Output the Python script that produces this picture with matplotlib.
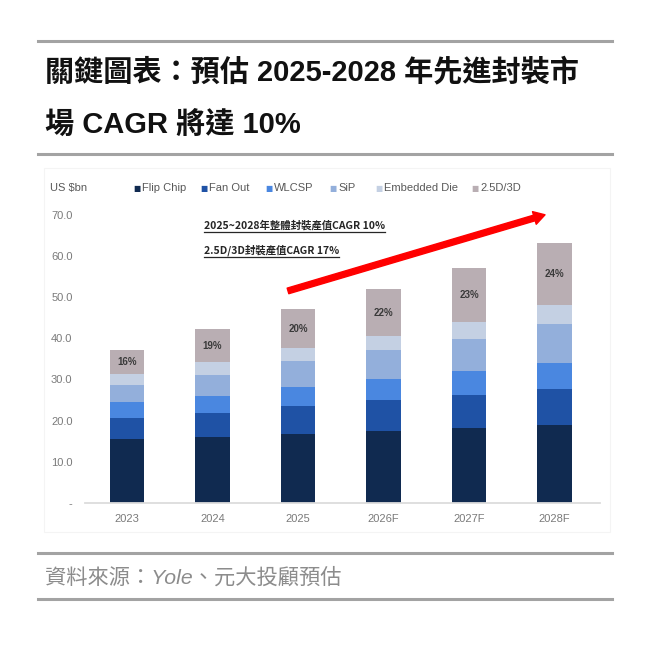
import matplotlib
matplotlib.use('Agg')
import matplotlib.pyplot as plt
import numpy as np
from matplotlib.lines import Line2D
from matplotlib.patches import Rectangle

# ---------------- data ----------------
years = ['2023', '2024', '2025', '2026F', '2027F', '2028F']
flip_chip = [15.5, 16.0, 16.7, 17.5, 18.2, 18.9]
fan_out = [5.2, 5.8, 6.9, 7.4, 8.0, 8.8]
wlcsp = [3.9, 4.2, 4.6, 5.3, 5.8, 6.4]
sip = [4.0, 5.0, 6.2, 6.9, 7.8, 9.3]
embedded_die = [2.6, 3.2, 3.3, 3.4, 4.1, 4.6]
d25_3d = [5.9, 8.0, 9.3, 11.5, 13.2, 15.2]
share_25d = ['16%', '19%', '20%', '22%', '23%', '24%']
series_names = ['Flip Chip', 'Fan Out', 'WLCSP', 'SiP', 'Embedded Die', '2.5D/3D']
yticks = [0, 10, 20, 30, 40, 50, 60, 70]
ytick_labels = ['-', '10.0', '20.0', '30.0', '40.0', '50.0', '60.0', '70.0']

title_line1 = '關鍵圖表：預估 2025-2028 年先進封裝市'
title_line2 = '場 CAGR 將達 10%'
note_line1 = '2025~2028年整體封裝產值CAGR 10%'
note_line2 = '2.5D/3D封裝產值CAGR 17%'
source_text = '資料來源：Yole、元大投顧預估'
unit_text = 'US $bn'

# ---------------- style ----------------
colors = ['#102a50', '#1f52a5', '#4a87e0', '#93afdb', '#c4d0e3', '#b9aeb3']
CJK = ['Noto Sans CJK TC', 'DejaVu Sans']
MIX = ['Liberation Sans', 'Noto Sans CJK TC', 'DejaVu Sans']
LAT = ['Liberation Sans', 'DejaVu Sans']
W, H = 645, 646

def fx(px):
    return px / W

def fy(py):
    return 1 - py / H

fig = plt.figure(figsize=(W / 100, H / 100), dpi=100)
fig.patch.set_facecolor('white')

# horizontal rules
for yy in (41, 154, 553, 599):
    fig.add_artist(Line2D([fx(38), fx(612)], [fy(yy), fy(yy)], color='#a3a3a3', lw=2.2,
                          transform=fig.transFigure))

# title
fig.text(fx(45), fy(72), title_line1, family=MIX, weight='bold', fontsize=21,
         color='#111111', ha='left', va='center')
fig.text(fx(45), fy(124.5), title_line2, family=MIX, weight='bold', fontsize=21,
         color='#111111', ha='left', va='center')

# source
fig.text(fx(45), fy(577.5), source_text, family=MIX, style='italic', fontsize=15.3,
         color='#8c8c8c', ha='left', va='center')

# faint chart panel frame
fig.add_artist(Rectangle((fx(44), fy(532)), fx(610) - fx(44), fy(168) - fy(532),
                         transform=fig.transFigure, fill=False, edgecolor='#f4f4f4', lw=0.8))

# ---------------- axes ----------------
ax = fig.add_axes([fx(85), fy(502.8), fx(600) - fx(85), fy(214.8) - fy(502.8)])
x = np.arange(len(years))
series = [flip_chip, fan_out, wlcsp, sip, embedded_die, d25_3d]
bottom = np.zeros(len(years))
for vals, c, name in zip(series, colors, series_names):
    ax.bar(x, vals, width=0.40, bottom=bottom, color=c, label=name, zorder=2)
    bottom = bottom + np.array(vals)

# percentage labels inside 2.5D/3D segment
base_25d = bottom - np.array(d25_3d)
for i, lab in enumerate(share_25d):
    ax.text(x[i], base_25d[i] + d25_3d[i] / 2, lab, ha='center', va='center',
            fontsize=7, color='#3a3a3a', family=LAT, weight='bold', zorder=3)

ax.set_xlim(-0.491, 5.532)
ax.set_ylim(0, 70)
ax.set_yticks(yticks)
ax.set_yticklabels(ytick_labels)
ax.set_xticks(x)
ax.set_xticklabels(years)
for lab in ax.get_xticklabels() + ax.get_yticklabels():
    lab.set_family(LAT)
    lab.set_fontsize(8)
    lab.set_color('#7a7a7a')
ax.tick_params(axis='both', length=0)
ax.tick_params(axis='y', pad=9)
ax.tick_params(axis='x', pad=8)
for s in ('top', 'right', 'left'):
    ax.spines[s].set_visible(False)
ax.spines['bottom'].set_color('#dcdcdc')
ax.spines['bottom'].set_linewidth(1.3)
ax.set_facecolor('white')

# red trend arrow
ax.annotate('', xy=(4.889, 70.0), xytext=(1.883, 51.5),
            arrowprops=dict(arrowstyle='simple,head_length=0.8,head_width=0.95,tail_width=0.42',
                            color='#ff0000', mutation_scale=10, shrinkA=0, shrinkB=0),
            annotation_clip=False, zorder=4)

# legend (manual row)
leg_y = fy(188)
fig.text(fx(50), leg_y, unit_text, family=LAT, fontsize=8, color='#595959', ha='left', va='center')
leg_x = [133, 200, 265, 329, 375, 471]
for xx, name, c in zip(leg_x, series_names, colors):
    fig.text(fx(xx), leg_y, '■', family=['DejaVu Sans'], fontsize=5.5, color=c, ha='left', va='center')
    fig.text(fx(xx + 9), leg_y, name, family=LAT, fontsize=8, color='#595959', ha='left', va='center')

# annotation notes with underline
t1 = fig.text(fx(204), fy(225), note_line1, family=CJK, weight='bold', fontsize=7.5,
              color='#262626', ha='left', va='center')
t2 = fig.text(fx(204), fy(250), note_line2, family=CJK, weight='bold', fontsize=7.5,
              color='#262626', ha='left', va='center')
fig.canvas.draw()
renderer = fig.canvas.get_renderer()
for t in (t1, t2):
    bb = t.get_window_extent(renderer)
    yline = (bb.y0 - 1.5) / H
    fig.add_artist(Line2D([bb.x0 / W, bb.x1 / W], [yline, yline], color='#262626', lw=0.9,
                          transform=fig.transFigure))

fig.savefig('out.png', dpi=100)
